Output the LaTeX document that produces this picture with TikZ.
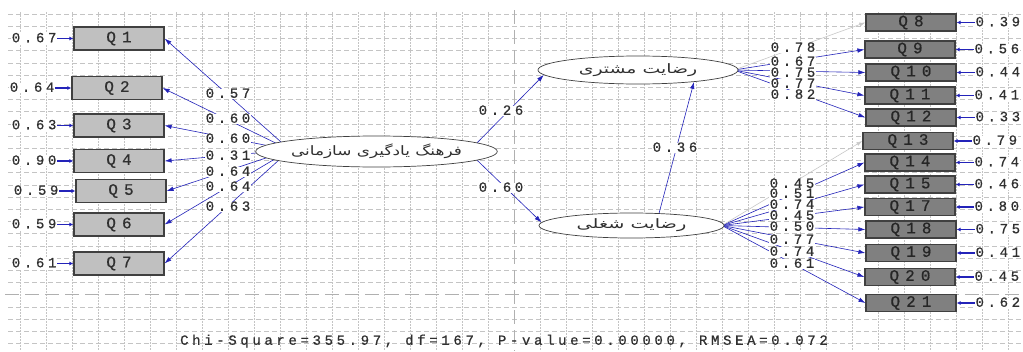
\documentclass[tikz,border=0pt]{standalone}
\usepackage{fontspec}
\TeXXeTstate=1
\usetikzlibrary{arrows.meta,shapes.geometric}
\newfontfamily\lisfont[LetterSpace=26,FakeBold=0.6]{Liberation Mono}
\newfontfamily\boxfont[LetterSpace=38,FakeBold=0.6]{Liberation Mono}
\newfontfamily\fafont[Script=Arabic]{DejaVu Sans}
\definecolor{gridgray}{RGB}{196,196,196}
\definecolor{pathblue}{RGB}{35,35,185}
\definecolor{fixgray}{RGB}{200,200,200}
\definecolor{boxlight}{RGB}{192,192,192}
\definecolor{boxdark}{RGB}{128,128,128}
\definecolor{edgedark}{RGB}{64,64,64}
\definecolor{txtgray}{RGB}{48,48,48}
\pgfdeclarelayer{gridlayer}
\pgfdeclarelayer{edgelayer}
\pgfsetlayers{gridlayer,edgelayer,main}
\tikzset{
  lbox/.style={draw=edgedark, line width=1.2pt, fill=boxlight, minimum width=90pt,
    minimum height=23pt, inner sep=0pt, text=txtgray,
    font=\boxfont\fontsize{16}{16}\selectfont},
  rbox/.style={lbox, fill=boxdark, minimum height=17pt, text=black!85},
  latent/.style={ellipse, draw=edgedark, line width=0.7pt, fill=white, inner sep=0pt,
    text=txtgray, font=\fafont\fontsize{13}{13}\selectfont},
  est/.style={fill=white, inner sep=0.8pt, text height=8pt, text depth=0.5pt,
    text=txtgray, font=\lisfont\fontsize{14}{14}\selectfont},
  loadarrow/.style={draw=pathblue, line width=0.6pt, -{Latex[length=7pt,width=4.5pt]}},
  fixedarrow/.style={draw=fixgray, line width=0.6pt, -{Latex[length=6pt,width=4pt]}},
  errarrow/.style={draw=pathblue, line width=1.1pt, -{Latex[length=4pt,width=4pt]}},
  gridh/.style={draw=gridgray, line width=0.6pt, dash pattern=on 5pt off 3pt},
  gridv/.style={draw=gridgray, line width=0.6pt, dash pattern=on 1.5pt off 1.5pt},
  gridc/.style={draw=gridgray!90!black, line width=1pt, dash pattern=on 14pt off 6pt},
}
\begin{document}
\begin{tikzpicture}[x=1pt,y=-1pt]
\useasboundingbox (0,0) rectangle (1023,351);

% background grid
\begin{pgfonlayer}{gridlayer}
  \fill[white] (0,0) rectangle (1023,351);
  \foreach \k in {0,...,27}{
    \ifnum\k=23\relax\else
      \draw[gridh] (8,14+12.2*\k) -- (1023,14+12.2*\k);
    \fi}
  \foreach \k in {0,...,38}{
    \ifnum\k=19\relax\else
      \draw[gridv] (20+26*\k,12) -- (20+26*\k,351);
    \fi}
  \draw[gridc] (5,294.6) -- (1023,294.6);
  \draw[gridc] (514,10) -- (514,351);
\end{pgfonlayer}

% latent variables
\node[latent, minimum width=207pt, minimum height=31pt] (fr) at (376.5,151.5)
  {\scalebox{1.3}[1]{\beginR فرهنگ یادگیری سازمانی\endR}};
\node[latent, minimum width=200pt, minimum height=28pt] (mo) at (638,70)
  {\scalebox{1.45}[1]{\beginR رضایت مشتری\endR}};
\node[latent, minimum width=185pt, minimum height=25pt] (js) at (631.5,225.5)
  {\scalebox{1.48}[1]{\beginR رضایت شغلی\endR}};
\coordinate (frc) at (290,150);
\coordinate (moc) at (734,70);
\coordinate (jsc) at (722,225.5);

% indicators of the first factor
\node[lbox] (Q1) at (119,38.5) {Q1};
\node[lbox] (Q2) at (117,88) {Q2};
\node[lbox] (Q3) at (119,125.5) {Q3};
\node[lbox] (Q4) at (119,161) {Q4};
\node[lbox] (Q5) at (121,191) {Q5};
\node[lbox] (Q6) at (119,224.5) {Q6};
\node[lbox] (Q7) at (119,263.5) {Q7};

% indicators of the two outcome factors
\node[rbox] (Q8) at (911,22.5) {Q8};
\node[rbox] (Q9) at (910,49.5) {Q9};
\node[rbox] (Q10) at (911,72.5) {Q10};
\node[rbox] (Q11) at (910,95.5) {Q11};
\node[rbox] (Q12) at (911,117.5) {Q12};
\node[rbox] (Q13) at (908,141) {Q13};
\node[rbox] (Q14) at (910,162.5) {Q14};
\node[rbox] (Q15) at (910,184.5) {Q15};
\node[rbox] (Q17) at (910,207) {Q17};
\node[rbox] (Q18) at (911,229.5) {Q18};
\node[rbox] (Q19) at (911,253) {Q19};
\node[rbox] (Q20) at (910,277) {Q20};
\node[rbox] (Q21) at (911,303) {Q21};

% error variances, left
\foreach \q/\v in {Q1/0.67,Q2/0.64,Q3/0.63,Q4/0.90,Q5/0.59,Q6/0.59,Q7/0.61}{
  \node[est, anchor=east] (e\q) at ([xshift=-16pt]\q.west) {\v};
  \begin{pgfonlayer}{edgelayer}
    \draw[errarrow] (e\q) -- (\q);
  \end{pgfonlayer}}
% error variances, right
\foreach \q/\v in {Q8/0.39,Q9/0.56,Q10/0.44,Q11/0.41,Q12/0.33,Q13/0.79,Q14/0.74,
                   Q15/0.46,Q17/0.80,Q18/0.75,Q19/0.41,Q20/0.45,Q21/0.62}{
  \node[est, anchor=west] (e\q) at ([xshift=18pt]\q.east) {\v};
  \begin{pgfonlayer}{edgelayer}
    \draw[errarrow] (e\q) -- (\q);
  \end{pgfonlayer}}

% loadings of the first factor
\foreach \q/\v/\y in {Q1/0.57/94,Q2/0.60/119,Q3/0.60/139,Q4/0.31/156,
                      Q5/0.64/172,Q6/0.64/187,Q7/0.63/207}{
  \node[est] (l\q) at (228,\y) {\v};
  \begin{pgfonlayer}{edgelayer}
    \draw[loadarrow] (frc) -- (\q.east);
  \end{pgfonlayer}}

% loadings of the customer satisfaction factor
\node[est] (lQ8) at (793,48) {0.78};
\foreach \q/\v/\y in {Q9/0.67/62,Q10/0.75/73,Q11/0.77/84,Q12/0.82/95}{
  \node[est] (l\q) at (793,\y) {\v};
  \begin{pgfonlayer}{edgelayer}
    \draw[loadarrow] (moc) -- (\q.west);
  \end{pgfonlayer}}

% loadings of the job satisfaction factor
\node[est] (lQ13) at (792,184) {0.45};
\foreach \q/\v/\y in {Q14/0.51/194,Q15/0.74/205,Q17/0.45/216,Q18/0.50/227,
                      Q19/0.77/240,Q20/0.74/252,Q21/0.61/264}{
  \node[est] (l\q) at (792,\y) {\v};
  \begin{pgfonlayer}{edgelayer}
    \draw[loadarrow] (jsc) -- (\q.west);
  \end{pgfonlayer}}

\begin{pgfonlayer}{edgelayer}
  \draw[fixedarrow] (moc) -- (Q8.west);
  \draw[fixedarrow] (jsc) -- (Q13.west);
  % structural paths
  \draw[loadarrow] (fr.5) -- (mo.183);
  \draw[loadarrow] (fr.-5) -- (js.178);
  \draw[loadarrow] (js.24) -- (mo.-12);
\end{pgfonlayer}
\node[est] (s1) at (501,111) {0.26};
\node[est] (s2) at (501,188) {0.60};
\node[est] (s3) at (675,148) {0.36};

% fit statistics
\node[est, fill=none] (fit) at (504,341)
  {Chi-Square=355.97, df=167, P-value=0.00000, RMSEA=0.072};
\end{tikzpicture}
\end{document}
